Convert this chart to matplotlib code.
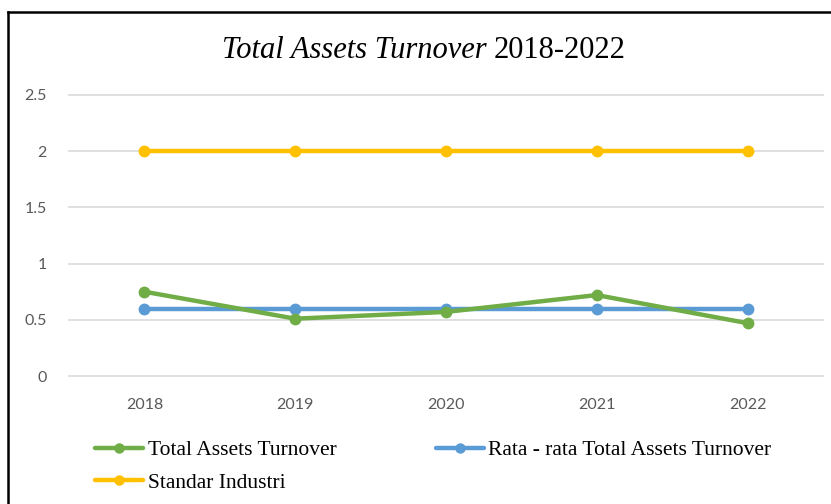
import matplotlib
matplotlib.use("Agg")
import matplotlib.pyplot as plt
from matplotlib.lines import Line2D

# data
years = ["2018", "2019", "2020", "2021", "2022"]
tato = [0.75, 0.51, 0.57, 0.72, 0.47]
rata_rata = [0.60, 0.60, 0.60, 0.60, 0.60]
standar = [2, 2, 2, 2, 2]
y_ticks = [0, 0.5, 1, 1.5, 2, 2.5]
y_tick_labels = ["0", "0.5", "1", "1.5", "2", "2.5"]

W, H = 831, 504
GREEN = "#70AD47"
BLUE = "#5B9BD5"
YELLOW = "#FFC000"

fig = plt.figure(figsize=(W / 100, H / 100), dpi=100)
fig.patch.set_facecolor("white")

# plot area in pixel units -> figure fraction
left, right, top, bottom = 69, 823, 95, 376
ax = fig.add_axes([left / W, 1 - bottom / H, (right - left) / W, (bottom - top) / H])

x = range(len(years))
line_kw = dict(linewidth=3.2, marker="o", markersize=7.5, solid_capstyle="round")
l_std, = ax.plot(x, standar, color=YELLOW, label="Standar Industri", **line_kw)
l_rata, = ax.plot(x, rata_rata, color=BLUE, label="Rata - rata Total Assets Turnover", **line_kw)
l_tato, = ax.plot(x, tato, color=GREEN, label="Total Assets Turnover", **line_kw)

ax.set_xlim(-0.5, len(years) - 0.5)
ax.set_ylim(0, 2.5)
ax.set_yticks(y_ticks)
ax.set_yticklabels(y_tick_labels)
ax.set_xticks(list(x))
ax.set_xticklabels(years)
ax.grid(axis="y", color="#D9D9D9", linewidth=1.2)
for g in ax.get_ygridlines():
    g.set_clip_on(False)
ax.set_axisbelow(True)
for s in ax.spines.values():
    s.set_visible(False)
ax.tick_params(length=0, colors="#595959", labelsize=11.5)
ax.tick_params(axis="y", pad=16)
ax.tick_params(axis="x", pad=16)
for lbl in ax.get_xticklabels() + ax.get_yticklabels():
    lbl.set_fontfamily("Lato")

# title, italic part + normal part
serif = "Liberation Serif"
fig.text(487 / W, 1 - 50 / H, "Total Assets Turnover", fontsize=22, style="italic",
         family=serif, ha="right", va="center")
fig.text(494 / W, 1 - 50 / H, "2018-2022", fontsize=22, family=serif,
         ha="left", va="center")

# legend below the plot
leg = fig.legend(handles=[l_tato, l_std, l_rata], ncol=2,
                 loc="upper left", bbox_to_anchor=(95 / W, 1 - 440 / H),
                 frameon=False, prop={"family": serif, "size": 15.5},
                 handlelength=2.25, handletextpad=0.2, columnspacing=4.6,
                 labelspacing=0.58, borderaxespad=0, borderpad=0)
for h in leg.legend_handles:
    h.set_markersize(6.5)

# frame lines on top and left
fig.add_artist(Line2D([8 / W, 1], [1 - 12 / H, 1 - 12 / H], color="black", linewidth=1.8))
fig.add_artist(Line2D([8 / W, 8 / W], [0, 1 - 12 / H], color="black", linewidth=1.8))

fig.savefig("out.png", dpi=100)
